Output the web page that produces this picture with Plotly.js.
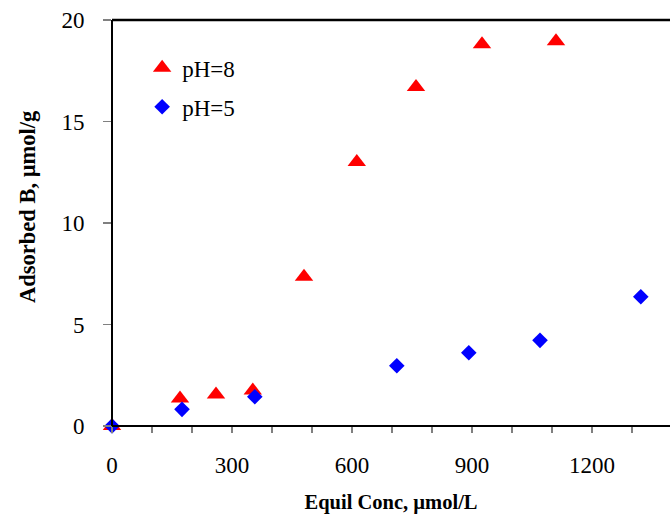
<!DOCTYPE html>
<html>
<head>
<meta charset="utf-8">
<script src="https://cdn.plot.ly/plotly-3.0.1.min.js"></script>
<style>html,body{margin:0;padding:0;background:#fff;overflow:hidden}</style>
</head>
<body>
<div id="chart" style="width:670px;height:521px"></div>
<script>
// Data
const ph8Name = "pH=8";
const ph8Conc = [0, 170, 260, 352, 480, 612, 760, 925, 1110];
const ph8Ads  = [0, 1.35, 1.55, 1.75, 7.35, 13.0, 16.7, 18.8, 18.95];

const ph5Name = "pH=5";
const ph5Conc = [0, 175, 357, 712, 892, 1070, 1322];
const ph5Ads  = [0, 0.82, 1.44, 2.97, 3.61, 4.22, 6.37];

const xTitle = "Equil Conc, µmol/L";
const yTitle = "Adsorbed B, µmol/g";

const serif = "Liberation Serif, Times New Roman, serif";

const traces = [
  {
    x: ph8Conc, y: ph8Ads, name: ph8Name, type: "scatter", mode: "markers",
    legendgroup: "a",
    marker: {symbol: "triangle-up", size: 16, color: "#ff0000"},
    cliponaxis: false
  },
  {
    x: ph5Conc, y: ph5Ads, name: ph5Name, type: "scatter", mode: "markers",
    legendgroup: "b",
    marker: {symbol: "diamond", size: 12, color: "#0000ff"},
    cliponaxis: false
  }
];

const layout = {
  width: 670, height: 521,
  margin: {l: 112, r: 0, t: 20, b: 95},
  paper_bgcolor: "#fff", plot_bgcolor: "#fff",
  font: {family: serif, size: 22, color: "#000"},
  showlegend: true,
  legend: {
    x: 0.054, y: 0.935, xanchor: "left", yanchor: "top",
    bgcolor: "rgba(0,0,0,0)", font: {family: serif, size: 23, color: "#000"},
    tracegroupgap: 6, itemwidth: 30
  },
  xaxis: {
    range: [0, 1395], dtick: 300, tick0: 0,
    showgrid: false, zeroline: false,
    showline: true, linecolor: "#808080", linewidth: 1,
    ticks: "outside", ticklen: 6, tickcolor: "#808080", tickwidth: 1.5,
    minor: {dtick: 100, ticks: "outside", ticklen: 6, tickcolor: "#808080", tickwidth: 1.5, showgrid: false},
    ticklabelstandoff: 12,
    tickfont: {family: serif, size: 23, color: "#000"},
    title: {text: xTitle, font: {family: serif, size: 20.5, color: "#000", weight: "bold"}, standoff: 18}
  },
  yaxis: {
    range: [0, 20], dtick: 5, tick0: 0,
    showgrid: false, zeroline: false,
    showline: true, linecolor: "#808080", linewidth: 1,
    ticks: "outside", ticklen: 8, tickcolor: "#808080", tickwidth: 1.5,
    ticklabelstandoff: 14,
    tickfont: {family: serif, size: 23, color: "#000"}
  },
  annotations: [
    {
      text: "<b>" + yTitle + "</b>", textangle: -90, showarrow: false,
      xref: "paper", yref: "paper", x: -85 / 558, y: (426 - 207) / 406,
      xanchor: "center", yanchor: "middle",
      font: {family: serif, size: 22.5, color: "#000"}
    }
  ],
  shapes: [
    {type: "line", xref: "paper", yref: "paper", x0: 0, x1: 0, y0: 0, y1: 1, line: {color: "#000", width: 2}},
    {type: "line", xref: "paper", yref: "paper", x0: 0, x1: 1, y0: 0, y1: 0, line: {color: "#000", width: 2}},
    {type: "line", xref: "paper", yref: "paper", x0: 0, x1: 1, y0: 1, y1: 1, line: {color: "#000", width: 2.5}}
  ]
};

Plotly.newPlot("chart", traces, layout, {displayModeBar: false, staticPlot: true});
</script>
</body>
</html>
